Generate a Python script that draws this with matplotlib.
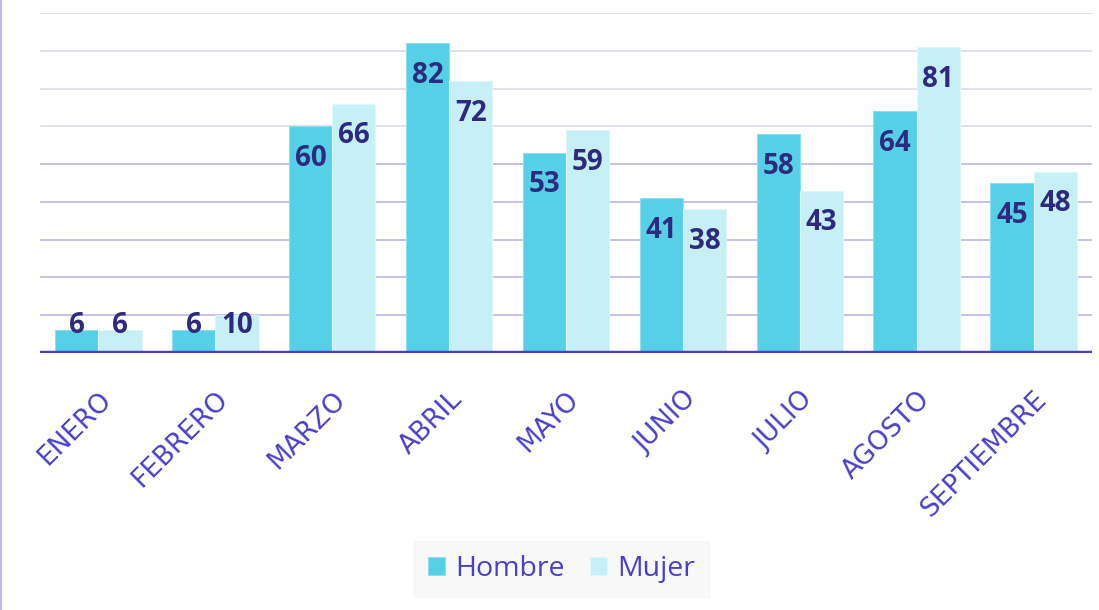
import numpy as np
import matplotlib
matplotlib.use('Agg')
import matplotlib.pyplot as plt
from matplotlib.lines import Line2D

months = ['ENERO', 'FEBRERO', 'MARZO', 'ABRIL', 'MAYO', 'JUNIO',
          'JULIO', 'AGOSTO', 'SEPTIEMBRE']
hombre = [6, 6, 60, 82, 53, 41, 58, 64, 45]
mujer = [6, 10, 66, 72, 59, 38, 43, 81, 48]
series = ['Hombre', 'Mujer']

c_hombre = '#55d0e6'
c_mujer = '#c6f0f6'
c_text = '#2e2a80'
c_tick = '#4a3fc8'

fig = plt.figure(figsize=(10.99, 6.10), dpi=100)
ax = fig.add_axes([40 / 1099, 1 - 353 / 610, 1052 / 1099, 340 / 610])

x = np.arange(len(months))
w = 0.37
b1 = ax.bar(x - w / 2, hombre, w, color=c_hombre, edgecolor='#8fe0ee',
            linewidth=0.8, label=series[0], zorder=3)
b2 = ax.bar(x + w / 2, mujer, w, color=c_mujer, edgecolor='#e0f7fa',
            linewidth=0.8, label=series[1], zorder=3)

# value labels inside the bar tops, pushed up for short bars
for bars, vals in ((b1, hombre), (b2, mujer)):
    for r, v in zip(bars, vals):
        y = max(v - 8.5, 7.2)
        ax.text(r.get_x() + r.get_width() / 2, y, str(v), ha='center',
                va='center', fontsize=20, fontweight='bold', color=c_text,
                family=['Open Sans', 'DejaVu Sans'], zorder=4)

ax.set_xlim(-0.5, len(months) - 0.5)
ax.set_ylim(0, 90)
for g in range(10, 100, 10):
    col = '#bdb6e2' if g <= 50 else '#dddbe6'
    ax.axhline(g, color=col, linewidth=1.2, zorder=1)
ax.axhline(0, color='#4b3fc4', linewidth=3.2, zorder=5)

for s in ax.spines.values():
    s.set_visible(False)
ax.set_yticks([])
ax.set_xticks(x)
ax.set_xticklabels(months, rotation=45, ha='right', va='top',
                   rotation_mode='anchor', fontsize=19, color=c_tick,
                   family='DejaVu Sans')
ax.tick_params(axis='x', length=0, pad=24)

leg = fig.legend(handles=[b1, b2], loc='center', bbox_to_anchor=(0.511, 0.067),
                 ncol=2, frameon=True, labelcolor=c_tick,
                 handlelength=0.6, handleheight=0.6, handletextpad=0.35,
                 columnspacing=0.9, borderpad=0.5, borderaxespad=0,
                 fancybox=False,
                 prop={'family': ['Open Sans', 'DejaVu Sans'], 'size': 20.5})
leg.get_frame().set_facecolor('#f7f7f7')
leg.get_frame().set_edgecolor('#f7f7f7')

fig.add_artist(Line2D([0.001, 0.001], [0, 1], transform=fig.transFigure,
                      color='#c0bcef', linewidth=1.5))

fig.savefig('out.png', dpi=100)
